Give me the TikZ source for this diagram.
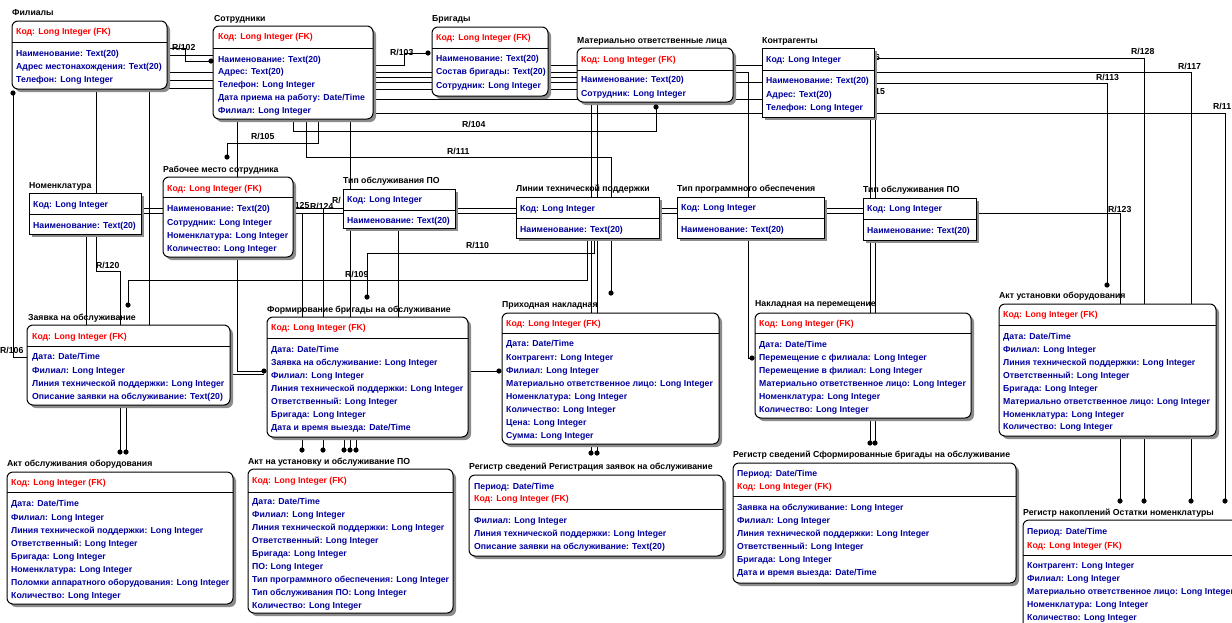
\documentclass[tikz,border=0pt]{standalone}
\usepackage{fontspec}
\setmainfont{Liberation Sans}
\usetikzlibrary{calc}
\definecolor{keyred}{RGB}{255,0,0}
\definecolor{attblue}{RGB}{0,0,160}
\definecolor{shad}{RGB}{140,140,140}
\tikzset{
  txt/.style={font=\fontsize{8.7}{10}\selectfont\bfseries, inner sep=0pt, anchor=west},
  keyt/.style={txt, text=keyred},
  attt/.style={txt, text=attblue},
  ttlt/.style={txt, text=black},
  rlab/.style={txt, text=black},
  conn/.style={draw=black, line width=0.8pt},
  ebox/.style={draw=black, line width=1pt, fill=white, inner sep=0pt, outer sep=0pt},
  rnd/.style={rounded corners=6pt},
  sq/.style={sharp corners}
}
\newcommand\entbox[7]{%
  \fill[shad,#7] (#2+3,#3+3) rectangle (#4+3,#5+3);
  \node[ebox,#7,anchor=north west,minimum width={(#4-#2)*1pt},minimum height={(#5-#3)*1pt}] (#1) at (#2,#3) {};
  \draw[line width=0.8pt] (#2,#6) -- (#4,#6);
}
\newcommand\entK[3]{\node[keyt] at (#1,#2) {#3};}
\newcommand\entA[3]{\node[attt] at (#1,#2) {#3};}
\newcommand\entT[3]{\node[ttlt] at (#1,#2) {#3};}
\newcommand\entR[3]{\node[rlab] at (#1,#2) {#3};}
\newcommand\entD[2]{\fill (#1,#2) circle (2.6pt);}
\begin{document}
\begin{tikzpicture}[x=1pt,y=-1pt]
\useasboundingbox (0,0) rectangle (1232,622);
\fill[white] (0,0) rectangle (1232,622);
\clip (0,0) rectangle (1232,622);
% ---------- connectors ----------
\draw[conn] (167,55) -- (213,55);
\draw[conn] (167,72) -- (213,72);
\draw[conn] (167,80) -- (213,80);
\draw[conn] (167,88) -- (213,88);
\draw[conn] (373,89) -- (577,89);
\draw[conn] (167,48) -- (185,48) -- (185,61) -- (211,61);
\draw[conn] (373,65) -- (404,65) -- (404,53) -- (428,53);
\draw[conn] (373,72) -- (748,72) -- (748,358) -- (752,358);
\draw[conn] (373,77) -- (577,77);
\draw[conn] (373,82) -- (762,82);
\draw[conn] (548,65) -- (762,65);
\draw[conn] (373,99) -- (762,99);
\draw[conn] (373,113) -- (1225,113) -- (1225,501);
\draw[conn] (874,58) -- (1144,58) -- (1144,501);
\draw[conn] (874,72) -- (1191,72) -- (1191,501);
\draw[conn] (874,83) -- (1107,83) -- (1107,285);
\draw[conn] (870,117) -- (870,443);
\draw[conn] (875,117) -- (875,443);
\draw[conn] (293,119) -- (293,131) -- (656,131) -- (656,107);
\draw[conn] (306,119) -- (306,157) -- (611,157) -- (611,293);
\draw[conn] (350,119) -- (350,450);
\draw[conn] (318,119) -- (318,143) -- (227,143) -- (227,157);
\draw[conn] (591,102) -- (591,453);
\draw[conn] (597,102) -- (597,453);
\draw[conn] (141,208) -- (863,208);
\draw[conn] (141,213) -- (1120,213) -- (1120,501);
\draw[conn] (302,213) -- (302,450);
\draw[conn] (323,208) -- (323,450);
\draw[conn] (398,228) -- (398,317);
\draw[conn] (344,437) -- (344,450);
\draw[conn] (356,437) -- (356,450);
\draw[conn] (237,119) -- (237,371) -- (264,371);
\draw[conn] (230,374) -- (264,374);
\draw[conn] (587,238) -- (587,280) -- (128,280) -- (128,305);
\draw[conn] (594,238) -- (594,253) -- (367,253) -- (367,297);
\draw[conn] (96,89) -- (96,193);
\draw[conn] (96,234) -- (96,271) -- (120,271) -- (120,452);
\draw[conn] (126,405) -- (126,452);
\draw[conn] (86,234) -- (86,325);
\draw[conn] (149,89) -- (149,325);
\draw[conn] (13,93) -- (13,357) -- (27,357);
\draw[conn] (468,371) -- (499,371);
% ---------- relationship labels ----------
\entR{172}{47}{R/102}
\entR{390}{52}{R/103}
\entR{462}{124}{R/104}
\entR{251}{136}{R/105}
\entR{447}{151}{R/111}
\entR{466}{245}{R/110}
\entR{345}{274}{R/109}
\entR{96}{265}{R/120}
\entR{0}{350}{R/106}
\entR{286}{205}{R/125}
\entR{310}{206}{R/124}
\entR{332}{200}{R/}
\entR{1131}{51}{R/128}
\entR{1178}{66}{R/117}
\entR{1096}{77}{R/113}
\entR{1213}{106}{R/11}
\entR{1108}{209}{R/123}
\entR{875}{58}{6}
\entR{875}{92}{15}
% ---------- entities ----------
\entbox{fil}{12}{21}{167}{89}{42}{rnd}
\entT{12}{13}{Филиалы}
\entK{16}{32}{Код: Long Integer (FK)}
\entA{16}{54}{Наименование: Text(20)}
\entA{16}{67}{Адрес местонахождения: Text(20)}
\entA{16}{80}{Телефон: Long Integer}

\entbox{sotr}{213}{26}{373}{119}{48}{rnd}
\entT{214}{19}{Сотрудники}
\entK{218}{37}{Код: Long Integer (FK)}
\entA{218}{60}{Наименование: Text(20)}
\entA{218}{72}{Адрес: Text(20)}
\entA{218}{85}{Телефон: Long Integer}
\entA{218}{98}{Дата приема на работу: Date/Time}
\entA{218}{111}{Филиал: Long Integer}

\entbox{brig}{432}{27}{548}{96}{48}{rnd}
\entT{432}{19}{Бригады}
\entK{436}{38}{Код: Long Integer (FK)}
\entA{436}{59}{Наименование: Text(20)}
\entA{436}{72}{Состав бригады: Text(20)}
\entA{436}{86}{Сотрудник: Long Integer}

\entbox{mol}{577}{48}{733}{102}{70}{rnd}
\entT{577}{41}{Материально ответственные лица}
\entK{581}{60}{Код: Long Integer (FK)}
\entA{581}{80}{Наименование: Text(20)}
\entA{581}{94}{Сотрудник: Long Integer}

\entbox{kontr}{762}{48}{874}{117}{70}{sq}
\entT{762}{41}{Контрагенты}
\entA{766}{60}{Код: Long Integer}
\entA{766}{81}{Наименование: Text(20)}
\entA{766}{95}{Адрес: Text(20)}
\entA{766}{108}{Телефон: Long Integer}

\entbox{nom}{29}{193}{141}{234}{214}{sq}
\entT{29}{186}{Номенклатура}
\entA{33}{205}{Код: Long Integer}
\entA{33}{226}{Наименование: Text(20)}

\entbox{rab}{163}{177}{293}{257}{197}{rnd}
\entT{163}{170}{Рабочее место сотрудника}
\entK{167}{189}{Код: Long Integer (FK)}
\entA{167}{209}{Наименование: Text(20)}
\entA{167}{223}{Сотрудник: Long Integer}
\entA{167}{236}{Номенклатура: Long Integer}
\entA{167}{249}{Количество: Long Integer}

\entbox{tipa}{343}{189}{455}{228}{210}{sq}
\entT{343}{181}{Тип обслуживания ПО}
\entA{347}{200}{Код: Long Integer}
\entA{347}{221}{Наименование: Text(20)}

\entbox{lin}{516}{197}{659}{238}{218}{sq}
\entT{516}{189}{Линии технической поддержки}
\entA{520}{209}{Код: Long Integer}
\entA{520}{230}{Наименование: Text(20)}

\entbox{tpo}{677}{197}{824}{238}{218}{sq}
\entT{677}{189}{Тип программного обеспечения}
\entA{681}{208}{Код: Long Integer}
\entA{681}{230}{Наименование: Text(20)}

\entbox{tipb}{863}{198}{976}{240}{219}{sq}
\entT{863}{190}{Тип обслуживания ПО}
\entA{867}{209}{Код: Long Integer}
\entA{867}{231}{Наименование: Text(20)}

\entbox{zay}{27}{325}{230}{405}{346}{rnd}
\entT{28}{318}{Заявка на обслуживание}
\entK{32}{337}{Код: Long Integer (FK)}
\entA{32}{357}{Дата: Date/Time}
\entA{32}{371}{Филиал: Long Integer}
\entA{32}{384}{Линия технической поддержки: Long Integer}
\entA{32}{397}{Описание заявки на обслуживание: Text(20)}

\entbox{form}{267}{317}{468}{437}{338}{rnd}
\entT{267}{310}{Формирование бригады на обслуживание}
\entK{271}{328}{Код: Long Integer (FK)}
\entA{271}{350}{Дата: Date/Time}
\entA{271}{363}{Заявка на обслуживание: Long Integer}
\entA{271}{376}{Филиал: Long Integer}
\entA{271}{389}{Линия технической поддержки: Long Integer}
\entA{271}{402}{Ответственный: Long Integer}
\entA{271}{415}{Бригада: Long Integer}
\entA{271}{428}{Дата и время выезда: Date/Time}

\entbox{prih}{502}{313}{719}{444}{333}{rnd}
\entT{502}{305}{Приходная накладная}
\entK{506}{324}{Код: Long Integer (FK)}
\entA{506}{344}{Дата: Date/Time}
\entA{506}{358}{Контрагент: Long Integer}
\entA{506}{371}{Филиал: Long Integer}
\entA{506}{384}{Материально ответственное лицо: Long Integer}
\entA{506}{397}{Номенклатура: Long Integer}
\entA{506}{410}{Количество: Long Integer}
\entA{506}{423}{Цена: Long Integer}
\entA{506}{436}{Сумма: Long Integer}

\entbox{nakl}{755}{313}{971}{418}{333}{rnd}
\entT{755}{304}{Накладная на перемещение}
\entK{759}{324}{Код: Long Integer (FK)}
\entA{759}{345}{Дата: Date/Time}
\entA{759}{358}{Перемещение с филиала: Long Integer}
\entA{759}{371}{Перемещение в филиал: Long Integer}
\entA{759}{384}{Материально ответственное лицо: Long Integer}
\entA{759}{397}{Номенклатура: Long Integer}
\entA{759}{410}{Количество: Long Integer}

\entbox{aktu}{999}{304}{1216}{436}{325}{rnd}
\entT{999}{296}{Акт установки оборудования}
\entK{1003}{315}{Код: Long Integer (FK)}
\entA{1003}{337}{Дата: Date/Time}
\entA{1003}{350}{Филиал: Long Integer}
\entA{1003}{363}{Линия технической поддержки: Long Integer}
\entA{1003}{376}{Ответственный: Long Integer}
\entA{1003}{389}{Бригада: Long Integer}
\entA{1003}{402}{Материально ответственное лицо: Long Integer}
\entA{1003}{415}{Номенклатура: Long Integer}
\entA{1003}{427}{Количество: Long Integer}

\entbox{akto}{7}{472}{233}{604}{492}{rnd}
\entT{7}{464}{Акт обслуживания оборудования}
\entK{11}{483}{Код: Long Integer (FK)}
\entA{11}{504}{Дата: Date/Time}
\entA{11}{518}{Филиал: Long Integer}
\entA{11}{531}{Линия технической поддержки: Long Integer}
\entA{11}{544}{Ответственный: Long Integer}
\entA{11}{557}{Бригада: Long Integer}
\entA{11}{570}{Номенклатура: Long Integer}
\entA{11}{583}{Поломки аппаратного оборудования: Long Integer}
\entA{11}{596}{Количество: Long Integer}

\entbox{aktp}{248}{469}{453}{613}{492}{rnd}
\entT{248}{462}{Акт на установку и обслуживание ПО}
\entK{252}{481}{Код: Long Integer (FK)}
\entA{252}{502}{Дата: Date/Time}
\entA{252}{515}{Филиал: Long Integer}
\entA{252}{528}{Линия технической поддержки: Long Integer}
\entA{252}{541}{Ответственный: Long Integer}
\entA{252}{554}{Бригада: Long Integer}
\entA{252}{567}{ПО: Long Integer}
\entA{252}{580}{Тип программного обеспечения: Long Integer}
\entA{252}{593}{Тип обслуживания ПО: Long Integer}
\entA{252}{606}{Количество: Long Integer}

\entbox{rega}{469}{475}{723}{556}{509}{rnd}
\entT{469}{467}{Регистр сведений Регистрация заявок на обслуживание}
\entA{474}{487}{Период: Date/Time}
\entK{474}{499}{Код: Long Integer (FK)}
\entA{474}{521}{Филиал: Long Integer}
\entA{474}{534}{Линия технической поддержки: Long Integer}
\entA{474}{547}{Описание заявки на обслуживание: Text(20)}

\entbox{regb}{733}{463}{1016}{583}{496}{rnd}
\entT{733}{455}{Регистр сведений Сформированные бригады на обслуживание}
\entA{737}{474}{Период: Date/Time}
\entK{737}{487}{Код: Long Integer (FK)}
\entA{737}{508}{Заявка на обслуживание: Long Integer}
\entA{737}{521}{Филиал: Long Integer}
\entA{737}{534}{Линия технической поддержки: Long Integer}
\entA{737}{547}{Ответственный: Long Integer}
\entA{737}{560}{Бригада: Long Integer}
\entA{737}{573}{Дата и время выезда: Date/Time}

\entbox{regc}{1023}{520}{1260}{650}{555}{rnd}
\entT{1023}{513}{Регистр накоплений Остатки номенклатуры}
\entA{1027}{532}{Период: Date/Time}
\entK{1027}{546}{Код: Long Integer (FK)}
\entA{1027}{566}{Контрагент: Long Integer}
\entA{1027}{579}{Филиал: Long Integer}
\entA{1027}{592}{Материально ответственное лицо: Long Integer}
\entA{1027}{605}{Номенклатура: Long Integer}
\entA{1027}{618}{Количество: Long Integer}
% ---------- relationship ends ----------
\entD{211}{61}
\entD{428}{53}
\entD{752}{358}
\entD{1225}{501}
\entD{1144}{501}
\entD{1191}{501}
\entD{1120}{501}
\entD{1107}{285}
\entD{870}{443}
\entD{875}{443}
\entD{656}{107}
\entD{611}{293}
\entD{227}{157}
\entD{591}{453}
\entD{597}{453}
\entD{302}{450}
\entD{323}{450}
\entD{344}{450}
\entD{350}{450}
\entD{356}{450}
\entD{264}{371}
\entD{128}{305}
\entD{367}{297}
\entD{120}{452}
\entD{126}{452}
\entD{13}{93}
\entD{499}{371}
\end{tikzpicture}
\end{document}
